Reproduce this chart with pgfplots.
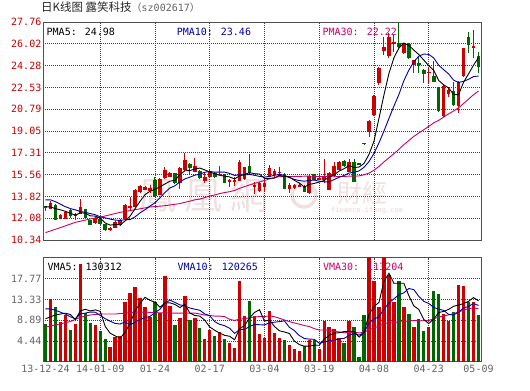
\documentclass[border=0pt]{standalone}
\usepackage{pgfplots}
\pgfplotsset{compat=1.18}
\usepackage{pgfplotstable}
\usepackage{fontspec}
\setmainfont{DejaVu Sans Mono}
\newfontfamily\cjk{Noto Sans CJK SC}
\newfontfamily\cjktc{Noto Sans CJK TC}
\definecolor{kred}{RGB}{204,0,0}
\definecolor{kgreen}{RGB}{0,102,0}
\definecolor{maten}{RGB}{0,0,170}
\definecolor{mathirty}{RGB}{204,0,102}
\definecolor{axgray}{RGB}{80,80,80}
\definecolor{lblgray}{RGB}{100,100,100}
\definecolor{wm}{RGB}{240,224,224}

% candles: i o h l c
\pgfplotstableread{
i o h l c
1 12.82 13.45 12.78 13.30
3 12.07 12.45 11.98 12.34
4 12.05 12.65 12.00 12.60
6 12.28 12.50 11.95 12.45
7 12.45 13.65 12.40 13.00
10 11.72 12.15 11.65 12.10
13 11.12 11.36 11.08 11.32
14 11.33 11.82 11.30 11.78
15 11.50 12.00 11.45 11.94
16 12.00 13.20 11.95 13.14
17 12.88 13.75 12.75 13.05
18 13.00 14.40 12.95 14.34
19 14.20 14.75 14.10 14.68
20 14.34 14.65 14.30 14.60
21 14.26 14.70 14.10 14.52
23 13.93 15.30 13.90 15.20
24 15.27 16.20 15.20 15.93
25 15.40 15.75 15.35 15.68
27 14.87 16.15 14.40 16.12
28 15.93 17.32 15.85 16.73
30 15.80 16.87 15.75 16.25
32 15.08 15.80 14.87 15.40
33 15.40 15.95 15.35 15.88
35 15.52 16.25 15.50 15.65
37 14.98 15.25 14.60 15.10
38 14.98 15.40 14.65 15.10
39 15.08 16.73 15.05 16.60
40 15.19 16.20 15.10 16.15
42 14.60 14.98 14.00 14.70
43 14.28 15.00 14.20 14.92
44 14.55 14.98 14.28 14.92
45 15.40 16.35 15.35 16.07
46 15.60 16.00 15.35 15.86
47 15.72 16.15 15.45 15.80
49 14.39 14.86 14.12 14.74
50 14.47 14.80 14.40 14.74
51 14.62 14.78 14.55 14.74
53 14.13 15.50 14.05 15.46
55 15.20 15.40 15.10 15.30
56 15.14 16.79 14.90 15.35
57 14.34 15.75 14.30 15.72
58 15.46 16.60 15.40 16.26
59 15.94 16.65 15.90 16.60
61 15.80 16.79 15.75 16.60
65 19.00 19.95 18.60 19.88
66 20.30 21.95 20.25 21.87
67 22.86 24.20 22.70 24.06
68 25.47 26.60 25.12 25.79
69 25.04 26.85 24.86 26.59
70 26.05 26.72 25.39 26.15
72 25.31 26.10 25.18 26.06
74 24.32 24.75 23.66 24.72
77 23.70 24.19 22.86 23.80
80 20.25 22.70 20.20 22.65
81 22.00 22.54 21.74 22.33
83 21.05 23.05 20.46 23.00
84 23.45 25.70 23.40 25.66
86 25.66 27.12 24.86 25.84
}\redK
\pgfplotstableread{
i o h l c
0 13.03 13.08 12.62 12.95
2 13.14 13.20 11.90 11.95
5 12.72 12.80 12.10 12.22
8 12.78 12.85 12.10 12.13
9 11.92 11.97 11.50 11.55
11 12.05 12.10 11.55 11.60
12 11.58 11.62 11.05 11.10
22 15.13 15.35 13.80 13.85
26 15.68 15.72 14.80 14.87
29 16.41 16.50 15.53 16.07
31 15.85 15.90 15.20 15.27
34 15.67 15.75 15.30 15.35
36 15.53 15.58 14.88 14.92
41 16.25 17.21 15.60 15.67
48 15.62 15.68 14.38 14.42
52 14.69 14.74 14.15 14.21
54 15.59 15.62 15.10 15.14
60 16.66 16.75 16.20 16.26
62 16.60 16.79 14.94 14.94
63 16.45 16.45 16.43 16.43
64 18.10 18.10 17.95 18.07
71 26.06 27.70 25.70 25.79
73 26.00 26.05 24.80 24.86
75 24.45 24.99 23.66 24.38
76 23.93 24.00 22.86 23.58
78 23.45 24.67 22.95 23.00
79 22.54 22.60 20.60 20.68
82 22.27 23.00 21.05 21.13
85 26.54 26.99 25.26 25.92
87 25.04 25.39 23.66 24.19
}\greenK

\pgfplotstableread{
i v
0 13.00
1 12.98
2 12.85
3 12.75
4 12.63
5 12.48
6 12.31
7 12.52
8 12.48
9 12.27
10 12.25
11 12.08
12 11.70
13 11.53
14 11.58
15 11.55
16 11.86
17 12.25
18 12.85
19 13.43
20 13.96
21 14.24
22 14.40
23 14.57
24 14.82
25 15.04
26 15.11
27 15.56
28 15.87
29 15.89
30 16.01
31 16.09
32 15.94
33 15.77
34 15.63
35 15.51
36 15.44
37 15.38
38 15.22
39 15.47
40 15.57
41 15.72
42 15.64
43 15.61
44 15.27
45 15.26
46 15.29
47 15.51
48 15.41
49 15.38
50 15.11
51 14.89
52 14.57
53 14.78
54 14.86
55 14.97
56 15.09
57 15.39
58 15.55
59 15.85
60 16.04
61 16.29
62 16.13
63 16.17
64 16.46
65 17.18
66 18.24
67 20.06
68 21.93
69 23.64
70 24.89
71 25.68
72 26.08
73 25.89
74 25.52
75 25.16
76 24.72
77 24.27
78 23.90
79 23.09
80 22.74
81 22.49
82 21.96
83 21.96
84 22.95
85 23.61
86 24.31
87 24.92
}\mafive
\pgfplotstableread{
i v
0 13.55
1 13.55
2 13.40
3 13.20
4 13.00
5 12.85
6 12.75
7 12.62
8 12.55
9 12.45
10 12.36
11 12.19
12 12.11
13 12.01
14 11.93
15 11.90
16 11.97
17 11.97
18 12.19
19 12.51
20 12.76
21 13.05
22 13.32
23 13.71
24 14.13
25 14.50
26 14.67
27 14.98
28 15.22
29 15.36
30 15.52
31 15.60
32 15.75
33 15.82
34 15.76
35 15.76
36 15.76
37 15.66
38 15.50
39 15.55
40 15.54
41 15.58
42 15.51
43 15.42
44 15.37
45 15.42
46 15.51
47 15.58
48 15.51
49 15.33
50 15.18
51 15.09
52 15.04
53 15.10
54 15.12
55 15.04
56 14.99
57 14.98
58 15.17
59 15.35
60 15.50
61 15.69
62 15.76
63 15.86
64 16.15
65 16.61
66 17.26
67 18.10
68 19.05
69 20.05
70 21.04
71 21.96
72 23.07
73 23.91
74 24.58
75 25.03
76 25.20
77 25.17
78 24.89
79 24.30
80 23.95
81 23.61
82 23.11
83 22.93
84 23.02
85 23.18
86 23.40
87 23.44
}\maten
\pgfplotstableread{
i v
0 10.93
3 11.33
6 11.75
9 12.02
12 12.26
15 12.55
18 12.76
21 12.98
24 13.08
27 13.25
28 13.35
29 13.44
30 13.55
31 13.61
32 13.73
33 13.85
34 13.94
35 14.05
36 14.13
37 14.20
38 14.30
39 14.47
40 14.61
41 14.74
42 14.86
43 14.98
44 15.09
45 15.22
46 15.32
47 15.41
48 15.41
49 15.41
50 15.42
51 15.42
52 15.44
53 15.44
54 15.42
55 15.41
56 15.42
57 15.41
58 15.39
59 15.41
60 15.41
61 15.45
62 15.44
63 15.46
64 15.55
65 15.69
66 15.92
67 16.22
68 16.58
69 16.91
70 17.24
71 17.58
72 17.96
73 18.29
74 18.62
75 18.89
76 19.15
77 19.42
78 19.70
79 19.90
80 20.16
81 20.42
82 20.65
83 20.90
84 21.25
85 21.60
86 21.95
87 22.24
}\mathirty

% volume (units of 10 000)
\pgfplotstableread{
i v
1 13.4
3 8.6
4 10.0
6 8.0
7 21.0
10 7.8
13 3.2
14 5.3
15 5.4
16 12.8
17 14.6
18 16.0
19 13.7
20 11.8
21 9.5
23 10.5
24 18.3
25 12.0
27 9.3
28 14.0
30 9.3
32 4.9
33 6.7
35 6.3
37 3.9
38 3.0
39 17.3
40 9.7
42 9.7
43 5.9
44 5.1
45 10.9
46 6.1
47 5.1
49 3.5
50 2.8
51 2.3
53 4.6
55 2.7
56 8.8
57 7.5
58 6.9
59 5.1
61 8.8
65 23.5
66 17.3
67 11.8
68 23.5
69 18.5
70 12.8
72 11.8
74 7.5
77 7.4
80 10.3
81 8.7
83 16.4
84 16.1
86 12.7
}\redV
\pgfplotstableread{
i v
0 8.1
2 11.8
5 6.7
8 10.4
9 8.2
11 6.5
12 4.8
22 12.7
26 7.8
29 9.0
31 7.2
34 5.5
36 4.8
41 13.0
48 4.6
52 3.4
54 4.6
60 4.0
62 7.4
63 1.0
64 9.9
71 17.3
73 10.3
75 9.1
76 6.5
78 15.1
79 14.5
82 10.7
85 12.7
87 10.1
}\greenV
\pgfplotstableread{
i v
0 9.20
1 9.60
2 10.00
3 10.20
4 10.38
5 10.10
6 9.02
7 10.86
8 11.22
9 10.86
10 11.08
11 10.78
12 7.54
13 6.10
14 5.52
15 5.04
16 6.30
17 8.26
18 10.82
19 12.50
20 13.78
21 13.12
22 12.74
23 11.64
24 12.56
25 12.60
26 12.26
27 11.58
28 12.28
29 10.42
30 9.88
31 9.76
32 8.88
33 7.42
34 6.72
35 6.12
36 5.64
37 5.44
38 4.70
39 7.06
40 7.74
41 9.38
42 10.54
43 11.12
44 8.68
45 8.92
46 7.54
47 6.62
48 6.36
49 6.04
50 4.42
51 3.66
52 3.32
53 3.32
54 3.54
55 3.52
56 4.82
57 5.64
58 6.10
59 6.20
60 6.46
61 6.46
62 6.44
63 5.26
64 6.22
65 10.12
66 11.82
67 12.70
68 17.20
69 18.92
70 16.78
71 16.78
72 16.78
73 14.14
74 11.94
75 11.20
76 9.04
77 8.16
78 9.12
79 10.52
80 10.76
81 11.20
82 11.86
83 12.12
84 12.44
85 12.92
86 13.72
87 13.03
}\vmafive
\pgfplotstableread{
i v
0 11.30
1 11.30
2 11.00
3 10.60
4 10.20
5 9.60
6 9.20
7 10.20
8 10.40
9 10.62
10 10.59
11 9.90
12 9.20
13 8.66
14 8.19
15 8.06
16 8.54
17 7.90
18 8.46
19 9.01
20 9.41
21 9.71
22 10.50
23 11.23
24 12.53
25 13.19
26 12.69
27 12.16
28 11.96
29 11.49
30 11.24
31 11.01
32 10.23
33 9.85
34 8.57
35 8.00
36 7.70
37 7.16
38 6.06
39 6.89
40 6.93
41 7.51
42 7.99
43 7.91
44 7.87
45 8.33
46 8.46
47 8.58
48 8.74
49 7.36
50 6.67
51 5.60
52 4.97
53 4.84
54 4.79
55 3.97
56 4.24
57 4.48
58 4.71
59 4.87
60 4.99
61 5.64
62 6.04
63 5.68
64 6.21
65 8.29
66 9.14
67 9.57
68 11.23
69 12.57
70 13.45
71 14.30
72 14.74
73 15.67
74 15.43
75 13.99
76 12.91
77 12.47
78 11.63
79 11.23
80 10.98
81 10.12
82 10.01
83 10.62
84 11.48
85 11.84
86 12.46
87 12.03
}\vmaten
\pgfplotstableread{
i v
0 7.40
3 8.10
5 8.60
7 9.50
9 10.00
11 10.20
14 10.20
16 10.40
18 10.60
20 10.60
22 10.50
24 10.45
26 10.40
28 10.40
29 10.37
30 10.41
31 10.21
32 9.98
33 9.91
34 9.76
35 9.75
36 9.64
37 9.07
38 8.83
39 9.13
40 9.19
41 9.41
42 9.57
43 9.66
44 9.66
45 9.84
46 9.62
47 9.30
48 8.92
49 8.58
50 8.28
51 8.04
52 7.73
53 7.53
54 7.08
55 6.77
56 6.80
57 6.74
58 6.50
59 6.37
60 6.20
61 6.25
62 6.33
63 6.14
64 6.29
65 6.86
66 7.28
67 7.54
68 8.23
69 8.27
70 8.37
71 8.51
72 8.58
73 8.73
74 8.81
75 8.75
76 8.76
77 8.84
78 9.19
79 9.56
80 9.81
81 10.02
82 10.26
83 10.66
84 11.04
85 11.37
86 11.50
87 11.32
}\vmathirty

\pgfplotsset{
  kax/.style={
    scale only axis, width=438bp, anchor=south west,
    xmin=-0.5, xmax=87.5,
    axis line style={draw=axgray, line width=0.9bp},
    major tick length=0pt,
    xtick={11,22,33,44,55,66,77},
    grid=major,
    major grid style={draw=black!75, line width=0.9bp, dash pattern=on 0.9bp off 1.1bp},
    tick label style={font=\fontsize{10bp}{12bp}\selectfont},
    yticklabel style={inner sep=1.5bp},
  },
  wick/.style={draw=none, mark=none, error bars/.cd, y dir=both, y explicit, error mark=none,
    error bar style={draw=#1, solid, line width=1bp}},
  body/.style={draw=none, mark=none, error bars/.cd, y dir=both, y explicit, error mark=none,
    error bar style={draw=#1, solid, line width=3.6bp}},
  maline/.style={no markers, line width=0.9bp, #1},
}

\begin{document}
\begin{tikzpicture}
\path[use as bounding box] (0,0) rectangle (530bp,391bp);
% watermark
\node[anchor=west, inner sep=0, text=wm, font=\cjktc\fontsize{38bp}{38bp}\selectfont] at (138bp,196bp) {鳳\hspace{8bp}凰\hspace{8bp}網};
\draw[wm, line width=3.5bp] (304bp,196bp) circle (12bp);
\node[anchor=west, inner sep=0, text=wm, font=\cjktc\fontsize{25bp}{25bp}\selectfont] at (337bp,198bp) {財經};
\node[anchor=west, inner sep=0, text=wm, font=\fontsize{7bp}{8bp}\selectfont\bfseries] at (331bp,181bp) {finance.ifeng.com};

% title
\node[anchor=west, inner sep=0] at (41bp,384bp) {{\cjk\fontsize{11.5bp}{12bp}\selectfont\color{black!85}日K线图 露笑科技}{\fontsize{10bp}{12bp}\selectfont\color{lblgray}{\cjk （}sz002617{\cjk ）}}};

% price panel
\begin{axis}[kax, at={(43bp,151bp)}, height=218bp,
  ymin=10.34, ymax=27.76,
  ytick={10.34,12.08,13.82,15.56,17.31,19.05,20.79,22.53,24.28,26.02,27.76},
  yticklabels={10.34,12.08,13.82,15.56,17.31,19.05,20.79,22.53,24.28,26.02,27.76},
  yticklabel style={text=kred},
  xticklabels={}]
\addplot[wick=kred] table[x=i, y expr={(\thisrow{h}+\thisrow{l})/2}, y error expr={(\thisrow{h}-\thisrow{l})/2}] {\redK};
\addplot[body=kred] table[x=i, y expr={(\thisrow{o}+\thisrow{c})/2}, y error expr={max(abs(\thisrow{c}-\thisrow{o})/2,0.04)}] {\redK};
\addplot[wick=kgreen] table[x=i, y expr={(\thisrow{h}+\thisrow{l})/2}, y error expr={(\thisrow{h}-\thisrow{l})/2}] {\greenK};
\addplot[body=kgreen] table[x=i, y expr={(\thisrow{o}+\thisrow{c})/2}, y error expr={max(abs(\thisrow{c}-\thisrow{o})/2,0.04)}] {\greenK};
\addplot[maline=mathirty] table[x=i,y=v] {\mathirty};
\addplot[maline=maten] table[x=i,y=v] {\maten};
\addplot[maline=black] table[x=i,y=v] {\mafive};
\node[anchor=west, inner sep=0, font=\fontsize{10bp}{12bp}\selectfont, text=black] at (rel axis cs:0.008,0.953) {PMA5: 24.98};
\node[anchor=west, inner sep=0, font=\fontsize{10bp}{12bp}\selectfont, text=maten] at (rel axis cs:0.305,0.953) {PMA10: 23.46};
\node[anchor=west, inner sep=0, font=\fontsize{10bp}{12bp}\selectfont, text=mathirty] at (rel axis cs:0.638,0.953) {PMA30: 22.22};
\end{axis}

% volume panel
\begin{axis}[kax, at={(43bp,29.3bp)}, height=104.2bp,
  ymin=0, ymax=22.3,
  ytick={4.44,8.89,13.33,17.77},
  yticklabels={4.44,8.89,13.33,17.77},
  tick label style={text=lblgray},
  xticklabels={14-01-09,01-24,02-17,03-04,03-19,04-08,04-23},
  extra x ticks={0,87},
  extra x tick labels={13-12-24,05-09},
  extra x tick style={grid=none}]
\addplot[ycomb, no markers, kred, line width=3.4bp] table[x=i,y=v] {\redV};
\addplot[ycomb, no markers, kgreen, line width=3.4bp] table[x=i,y=v] {\greenV};
\addplot[maline=mathirty] table[x=i,y=v] {\vmathirty};
\addplot[maline=maten] table[x=i,y=v] {\vmaten};
\addplot[maline=black] table[x=i,y=v] {\vmafive};
\node[anchor=west, inner sep=0, font=\fontsize{10bp}{12bp}\selectfont, text=black] at (rel axis cs:0.010,0.906) {VMA5: 130312};
\node[anchor=west, inner sep=0, font=\fontsize{10bp}{12bp}\selectfont, text=maten] at (rel axis cs:0.307,0.906) {VMA10: 120265};
\node[anchor=west, inner sep=0, font=\fontsize{10bp}{12bp}\selectfont, text=mathirty] at (rel axis cs:0.639,0.906) {VMA30: 113204};
\node[anchor=east, inner sep=1.5bp, text=lblgray, font=\cjk\fontsize{9bp}{10bp}\selectfont] at (rel axis cs:0,0.094) {万};
\end{axis}
\end{tikzpicture}
\end{document}
